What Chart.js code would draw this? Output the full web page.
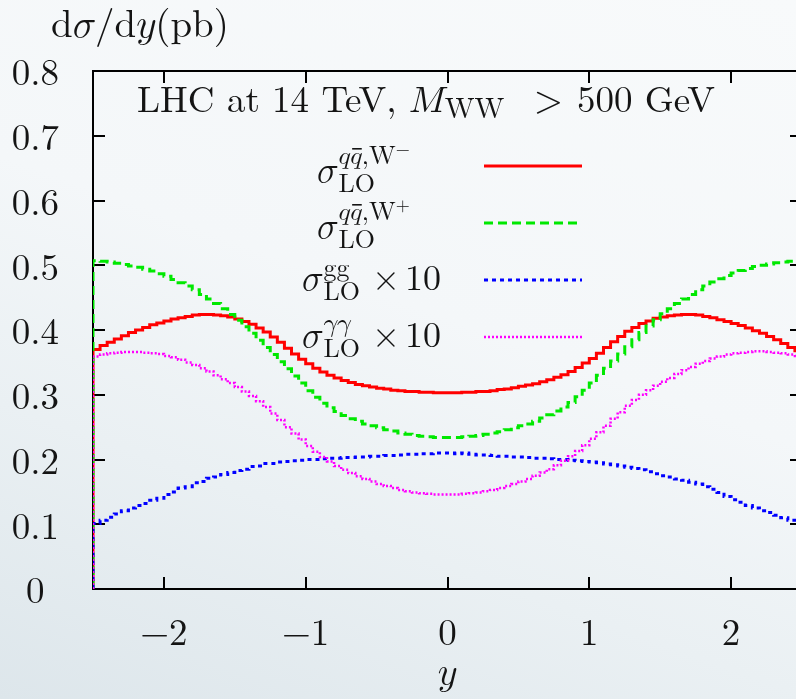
<!DOCTYPE html>
<html lang="en">
<head>
    <meta charset="UTF-8">
    <title>dσ/dy for WW production at the LHC</title>
    <script src="https://cdn.jsdelivr.net/npm/chart.js"></script>
    <style>
        html, body {
            margin: 0;
            width: 796px;
            height: 699px;
            overflow: hidden;
            background: linear-gradient(20deg, #dde6eb 0%, #eaf0f3 30%, #f4f7f9 55%, #f8fafb 100%);
        }
        #wrap {
            position: absolute;
            left: 0;
            top: 0;
            width: 812px;
            height: 699px;
        }
    </style>
</head>
<body>
    <div id="wrap"><canvas id="rapidityChart"></canvas></div>

    <script>
        // histogram binning in rapidity y
        const BIN_LO = -2.5;
        const BIN_W = 0.05;

        const xTicks = [-2, -1, 0, 1, 2];
        const yTicks = [0, 0.1, 0.2, 0.3, 0.4, 0.5, 0.6, 0.7, 0.8];

        // sigma_LO^{qq,W-}
        const qqWminus = [
            0.370, 0.376, 0.381, 0.386, 0.391, 0.396, 0.400, 0.404, 0.408, 0.411,
            0.414, 0.417, 0.419, 0.421, 0.423, 0.424, 0.424, 0.423, 0.422, 0.420,
            0.417, 0.413, 0.409, 0.403, 0.397, 0.389, 0.381, 0.372, 0.363, 0.355,
            0.348, 0.341, 0.335, 0.330, 0.326, 0.322, 0.319, 0.316, 0.314, 0.312,
            0.310, 0.309, 0.307, 0.306, 0.305, 0.305, 0.304, 0.304, 0.303, 0.303,
            0.303, 0.303, 0.304, 0.304, 0.305, 0.305, 0.306, 0.308, 0.309, 0.311,
            0.313, 0.315, 0.317, 0.320, 0.323, 0.327, 0.331, 0.336, 0.342, 0.349,
            0.356, 0.364, 0.373, 0.382, 0.390, 0.398, 0.404, 0.410, 0.414, 0.418,
            0.420, 0.422, 0.423, 0.424, 0.424, 0.423, 0.421, 0.419, 0.416, 0.413,
            0.410, 0.407, 0.403, 0.399, 0.395, 0.390, 0.385, 0.379, 0.373, 0.368
        ];

        // sigma_LO^{qq,W+}
        const qqWplus = [
            0.507, 0.506, 0.505, 0.503, 0.501, 0.499, 0.497, 0.494, 0.491, 0.487,
            0.483, 0.478, 0.473, 0.468, 0.462, 0.455, 0.448, 0.441, 0.433, 0.424,
            0.415, 0.405, 0.395, 0.384, 0.373, 0.362, 0.351, 0.340, 0.329, 0.318,
            0.306, 0.296, 0.287, 0.280, 0.274, 0.268, 0.263, 0.259, 0.255, 0.252,
            0.249, 0.246, 0.244, 0.241, 0.239, 0.237, 0.236, 0.235, 0.234, 0.234,
            0.234, 0.234, 0.235, 0.236, 0.237, 0.239, 0.241, 0.243, 0.246, 0.249,
            0.252, 0.255, 0.259, 0.264, 0.269, 0.275, 0.281, 0.288, 0.297, 0.307,
            0.318, 0.330, 0.341, 0.352, 0.363, 0.374, 0.385, 0.396, 0.406, 0.416,
            0.425, 0.433, 0.441, 0.448, 0.455, 0.462, 0.468, 0.474, 0.479, 0.484,
            0.488, 0.492, 0.495, 0.498, 0.500, 0.502, 0.504, 0.505, 0.506, 0.507
        ];

        // sigma_LO^{gg} x 10
        const ggTimes10 = [
            0.101, 0.106, 0.111, 0.116, 0.121, 0.125, 0.129, 0.132, 0.137, 0.140,
            0.146, 0.150, 0.156, 0.158, 0.164, 0.166, 0.171, 0.173, 0.177, 0.180,
            0.183, 0.185, 0.189, 0.190, 0.194, 0.194, 0.196, 0.197, 0.198, 0.199,
            0.200, 0.200, 0.201, 0.202, 0.202, 0.203, 0.203, 0.204, 0.204, 0.205,
            0.205, 0.206, 0.206, 0.207, 0.208, 0.208, 0.209, 0.209, 0.210, 0.210,
            0.210, 0.209, 0.210, 0.208, 0.207, 0.207, 0.206, 0.205, 0.205, 0.204,
            0.204, 0.203, 0.202, 0.202, 0.201, 0.200, 0.200, 0.199, 0.198, 0.197,
            0.196, 0.195, 0.193, 0.192, 0.190, 0.188, 0.186, 0.184, 0.181, 0.178,
            0.175, 0.173, 0.170, 0.168, 0.165, 0.162, 0.158, 0.154, 0.149, 0.143,
            0.138, 0.134, 0.129, 0.125, 0.121, 0.118, 0.114, 0.110, 0.106, 0.101
        ];

        // sigma_LO^{gamma gamma} x 10
        const aaTimes10 = [
            0.359, 0.362, 0.364, 0.365, 0.366, 0.366, 0.366, 0.365, 0.364, 0.363,
            0.360, 0.358, 0.354, 0.350, 0.346, 0.341, 0.336, 0.330, 0.324, 0.318,
            0.312, 0.305, 0.298, 0.290, 0.281, 0.271, 0.261, 0.250, 0.240, 0.231,
            0.221, 0.212, 0.204, 0.197, 0.190, 0.184, 0.179, 0.174, 0.170, 0.166,
            0.162, 0.159, 0.156, 0.153, 0.151, 0.149, 0.148, 0.147, 0.146, 0.146,
            0.146, 0.146, 0.147, 0.148, 0.149, 0.151, 0.153, 0.156, 0.159, 0.162,
            0.166, 0.170, 0.175, 0.180, 0.185, 0.191, 0.198, 0.205, 0.213, 0.222,
            0.232, 0.242, 0.252, 0.263, 0.273, 0.283, 0.292, 0.300, 0.307, 0.314,
            0.320, 0.326, 0.332, 0.338, 0.343, 0.348, 0.352, 0.356, 0.359, 0.362,
            0.364, 0.365, 0.366, 0.367, 0.367, 0.366, 0.365, 0.364, 0.362, 0.360
        ];

        // histogram outline: drop to zero at both ends, one step per bin
        function histPoints(vals) {
            const pts = [{ x: BIN_LO, y: 0 }];
            vals.forEach((v, i) => pts.push({ x: BIN_LO + i * BIN_W, y: v }));
            const hi = BIN_LO + vals.length * BIN_W;
            pts.push({ x: hi, y: vals[vals.length - 1] });
            pts.push({ x: hi, y: 0 });
            return pts;
        }

        const ROMAN = '"Latin Modern Roman", serif';
        const MATH = '"Latin Modern Math", "Latin Modern Roman", serif';
        const INK = '#141414';
        const rm = px => px + 'px ' + ROMAN;
        const mi = px => px + 'px ' + MATH;

        // draw a row of [text, font, dy] pieces left to right, returns end x
        function run(ctx, x, y, pieces) {
            ctx.textAlign = 'left';
            pieces.forEach(([s, font, dy]) => {
                ctx.font = font;
                ctx.fillText(s, x, y + (dy || 0));
                x += ctx.measureText(s).width;
            });
            return x;
        }

        // sigma with super/subscripts, as in the legend
        function sigmaLabel(ctx, x, base, sup, supBase, subBase) {
            ctx.font = mi(36);
            ctx.textAlign = 'left';
            ctx.fillText('\u{1D70E}', x, base);
            const sx = x + ctx.measureText('\u{1D70E}').width + 1;
            run(ctx, sx, supBase, sup);
            run(ctx, sx, subBase, [['LO', rm(26)]]);
            return sx;
        }

        const framePlugin = {
            id: 'frame',
            beforeDatasetsDraw(chart) {
                const { ctx, chartArea: a, scales } = chart;
                ctx.save();
                ctx.strokeStyle = '#000';
                ctx.lineWidth = 2;
                ctx.strokeRect(a.left, a.top, a.right - a.left, a.bottom - a.top);
                // inward tick marks on all four sides
                const tl = 12;
                ctx.beginPath();
                xTicks.forEach(v => {
                    const px = Math.round(scales.x.getPixelForValue(v));
                    ctx.moveTo(px, a.bottom); ctx.lineTo(px, a.bottom - tl);
                    ctx.moveTo(px, a.top); ctx.lineTo(px, a.top + tl);
                });
                yTicks.forEach(v => {
                    const py = Math.round(scales.y.getPixelForValue(v));
                    ctx.moveTo(a.left, py); ctx.lineTo(a.left + tl, py);
                    ctx.moveTo(a.right, py); ctx.lineTo(a.right - tl, py);
                });
                ctx.stroke();
                ctx.restore();
            },
            afterDraw(chart) {
                const { ctx } = chart;
                ctx.save();
                ctx.fillStyle = INK;
                ctx.textBaseline = 'alphabetic';

                // axis titles
                run(ctx, 51, 37, [
                    ['d', rm(39)], ['\u{1D70E}', mi(39)], ['/', rm(39)],
                    ['d', rm(39)], ['\u{1D466}', mi(39)], ['(pb)', rm(39)]
                ]);
                ctx.font = mi(38);
                ctx.textAlign = 'center';
                ctx.fillText('\u{1D466}', 447, 684);

                // title inside the frame
                run(ctx, 137, 112, [
                    ['LHC at 14 TeV, ', rm(37)], ['\u{1D440}', mi(37)], ['WW', rm(29), 6]
                ]);
                run(ctx, 534, 112, [['>', mi(37)]]);
                run(ctx, 577, 112, [['500 GeV', rm(37)]]);

                // legend keys use the dataset line styles
                const rows = [166, 223, 280, 337];
                chart.data.datasets.forEach((ds, i) => {
                    const y = rows[i];
                    ctx.save();
                    ctx.strokeStyle = ds.borderColor;
                    ctx.lineWidth = ds.borderWidth;
                    ctx.setLineDash(ds.borderDash || []);
                    ctx.beginPath();
                    ctx.moveTo(484, y);
                    ctx.lineTo(582, y);
                    ctx.stroke();
                    ctx.restore();
                });

                const qq = sign => [
                    ['\u{1D45E}', mi(26)], ['\u{1D45E}', mi(26)], [',', mi(26)],
                    ['W', rm(26)], [sign, mi(18), -9]
                ];
                // bar over the second q
                const qBar = (sx, supBase) => {
                    ctx.font = mi(26);
                    const w = ctx.measureText('\u{1D45E}').width;
                    ctx.fillRect(sx + w + 2, supBase - 16, w - 2, 1.6);
                };
                let sx = sigmaLabel(ctx, 317, 182, qq('\u2212'), 164, 192);
                qBar(sx, 164);
                sx = sigmaLabel(ctx, 317, 238, qq('+'), 220, 248);
                qBar(sx, 220);
                sigmaLabel(ctx, 302, 290, [['gg', rm(26)]], 276, 300);
                run(ctx, 372, 290, [['\u00D7', mi(36)]]);
                run(ctx, 405, 290, [['10', rm(36)]]);
                sigmaLabel(ctx, 302, 347, [['\u{1D6FE}\u{1D6FE}', mi(26)]], 331, 357);
                run(ctx, 372, 347, [['\u00D7', mi(36)]]);
                run(ctx, 405, 347, [['10', rm(36)]]);
                ctx.restore();
            }
        };

        const baseLine = { pointRadius: 0, stepped: true, fill: false, borderJoinStyle: 'miter', borderCapStyle: 'butt' };

        const ctx = document.getElementById('rapidityChart').getContext('2d');
        const chart = new Chart(ctx, {
            type: 'line',
            data: {
                datasets: [
                    { ...baseLine, label: 'qq W-', data: histPoints(qqWminus), borderColor: '#ff0000', borderWidth: 3, order: 4 },
                    { ...baseLine, label: 'qq W+', data: histPoints(qqWplus), borderColor: '#00e800', borderWidth: 3, borderDash: [9, 5], order: 3 },
                    { ...baseLine, label: 'gg x10', data: histPoints(ggTimes10), borderColor: '#0000ff', borderWidth: 3, borderDash: [4, 4], order: 2 },
                    { ...baseLine, label: 'aa x10', data: histPoints(aaTimes10), borderColor: '#ff00ff', borderWidth: 2.5, borderDash: [2, 2], order: 1 }
                ]
            },
            options: {
                responsive: true,
                maintainAspectRatio: false,
                animation: false,
                layout: { padding: { left: 0, top: 71, right: 10, bottom: 0 } },
                plugins: {
                    legend: { display: false },
                    tooltip: { enabled: false }
                },
                scales: {
                    x: {
                        type: 'linear',
                        min: BIN_LO,
                        max: 2.5,
                        grid: { display: false },
                        border: { display: false },
                        afterBuildTicks: s => { s.ticks = xTicks.map(v => ({ value: v })); },
                        afterFit: s => { s.height = 110; },
                        ticks: {
                            padding: 14,
                            color: INK,
                            font: { family: ROMAN, size: 37 },
                            callback: v => (v < 0 ? '\u2212' + Math.abs(v) : String(v))
                        }
                    },
                    y: {
                        min: 0,
                        max: 0.8,
                        grid: { display: false },
                        border: { display: false },
                        afterBuildTicks: s => { s.ticks = yTicks.map(v => ({ value: v })); },
                        afterFit: s => { s.width = 93; },
                        ticks: {
                            padding: 26,
                            crossAlign: 'center',
                            labelOffset: 3,
                            color: INK,
                            font: { family: ROMAN, size: 37 },
                            callback: v => (v === 0 ? '0' : v.toFixed(1))
                        }
                    }
                }
            },
            plugins: [framePlugin]
        });
    </script>
</body>
</html>
